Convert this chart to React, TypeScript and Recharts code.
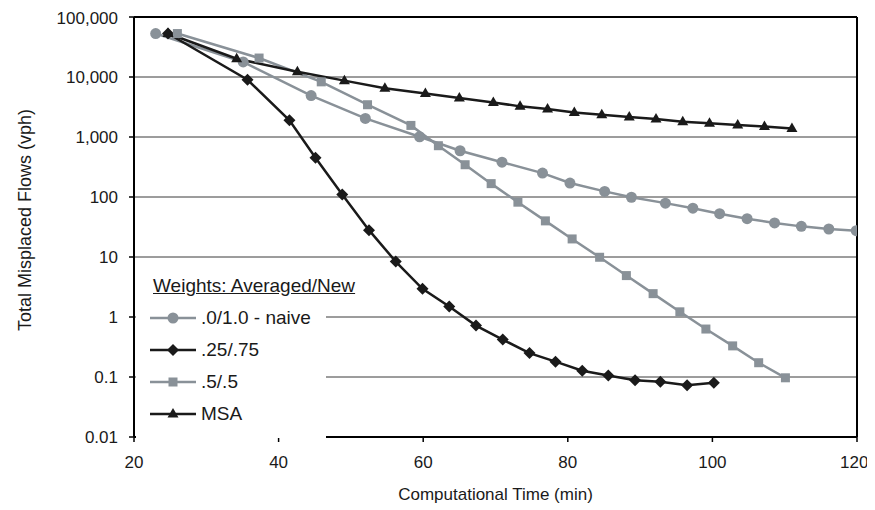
import React from 'react';
import { LineChart, Line, XAxis, YAxis, CartesianGrid, Legend, ReferenceLine } from 'recharts';

// each series has its own time stamps
const naiveTime = [23.0, 35.1, 44.5, 52.0, 59.5, 65.1, 70.9, 76.5, 80.3, 85.1, 88.8, 93.5, 97.3, 101.0, 104.8, 108.6, 112.3, 116.1, 119.9];
const naiveFlow = [53000, 17800, 4900, 2040, 1010, 590, 380, 250, 171, 124, 99, 79, 65, 52.7, 43.5, 36.9, 32.4, 29.3, 27.4];

const quarterTime = [24.7, 35.7, 41.5, 45.1, 48.8, 52.5, 56.2, 59.9, 63.6, 67.3, 71.0, 74.7, 78.3, 82.0, 85.6, 89.3, 92.8, 96.5, 100.2];
const quarterFlow = [53000, 9000, 1900, 450, 110, 28, 8.4, 2.95, 1.5, 0.72, 0.42, 0.25, 0.18, 0.127, 0.106, 0.088, 0.083, 0.073, 0.08];

const halfTime = [26.0, 37.3, 45.9, 52.3, 58.3, 62.1, 65.8, 69.4, 73.1, 76.9, 80.6, 84.4, 88.1, 91.8, 95.5, 99.1, 102.8, 106.4, 110.1];
const halfFlow = [53000, 20700, 8300, 3450, 1560, 716, 345, 167, 82, 40, 20, 9.9, 4.9, 2.45, 1.22, 0.63, 0.33, 0.173, 0.097];

const msaTime = [24.7, 34.2, 42.6, 49.1, 54.7, 60.3, 65.0, 69.7, 73.4, 77.2, 80.9, 84.7, 88.5, 92.2, 95.9, 99.6, 103.5, 107.2, 111.0];
const msaFlow = [53000, 20200, 12200, 8700, 6500, 5300, 4470, 3770, 3240, 2930, 2570, 2350, 2150, 2000, 1800, 1690, 1585, 1490, 1390];

const xTicks = [20, 40, 60, 80, 100, 120];
const yTicks = [0.01, 0.1, 1, 10, 100, 1000, 10000, 100000];

const GRAY = '#899198';
const BLACK = '#1a1a1a';
const FONT = '"Liberation Sans", Arial, sans-serif';

const toPoints = (t: number[], v: number[]) => t.map((x, i) => ({ t: x, v: v[i] }));

const series = [
  { name: '.0/1.0 - naive', shape: 'circle', color: GRAY, data: toPoints(naiveTime, naiveFlow) },
  { name: '.25/.75', shape: 'diamond', color: BLACK, data: toPoints(quarterTime, quarterFlow) },
  { name: '.5/.5', shape: 'square', color: GRAY, data: toPoints(halfTime, halfFlow) },
  { name: 'MSA', shape: 'triangle', color: BLACK, data: toPoints(msaTime, msaFlow) },
];

function Marker({ shape, color, cx, cy }: { shape: string; color: string; cx: number; cy: number }) {
  if (shape === 'circle') return <circle cx={cx} cy={cy} r={5.5} fill={color} />;
  if (shape === 'diamond')
    return <polygon points={`${cx},${cy - 6} ${cx + 6},${cy} ${cx},${cy + 6} ${cx - 6},${cy}`} fill={color} />;
  if (shape === 'square') return <rect x={cx - 4.5} y={cy - 4.5} width={9} height={9} fill={color} />;
  return <polygon points={`${cx},${cy - 6} ${cx + 5.5},${cy + 3.5} ${cx - 5.5},${cy + 3.5}`} fill={color} />;
}

const renderLegend = () => (
  <div
    style={{
      fontFamily: FONT,
      fontSize: 19,
      color: BLACK,
      background: '#fff',
      width: 190,
      height: 168,
      whiteSpace: 'nowrap',
      textAlign: 'left',
    }}
  >
    <div style={{ height: 32, lineHeight: '32px', paddingLeft: 17, textDecoration: 'underline' }}>
      Weights: Averaged/New
    </div>
    {series.map((s) => (
      <div key={s.name} style={{ height: 32, display: 'flex', alignItems: 'center', paddingLeft: 14 }}>
        <svg width={46} height={16} style={{ flex: 'none' }}>
          <line x1={0} x2={46} y1={8} y2={8} stroke={s.color} strokeWidth={2.5} />
          <Marker shape={s.shape} color={s.color} cx={23} cy={8} />
        </svg>
        <span style={{ marginLeft: 5 }}>{s.name}</span>
      </div>
    ))}
  </div>
);

const yTitle = (props: any) => {
  const { x, y, height } = props.viewBox;
  const cx = x + 17;
  const cy = y + height / 2 - 7;
  return (
    <text x={cx} y={cy} transform={`rotate(-90, ${cx}, ${cy})`} textAnchor="middle" dominantBaseline="central"
      fill={BLACK} fontSize={18} fontFamily={FONT}>
      Total Misplaced Flows (vph)
    </text>
  );
};

const xTitle = (props: any) => {
  const { x, y, width } = props.viewBox;
  return (
    <text x={x + width / 2} y={y + 57} textAnchor="middle" dominantBaseline="central"
      fill={BLACK} fontSize={17} fontFamily={FONT}>
      Computational Time (min)
    </text>
  );
};

export default function App() {
  return (
    <LineChart width={859} height={500} margin={{ top: 9, right: 10, left: 0, bottom: 0 }}>
      <CartesianGrid vertical={false} stroke="#3a3a3a" strokeWidth={1} />
      <XAxis
        type="number"
        dataKey="t"
        domain={[20, 120]}
        ticks={xTicks}
        allowDataOverflow
        height={71}
        tickSize={5}
        tickMargin={14}
        tick={{ fill: BLACK, fontSize: 17, fontFamily: FONT }}
        axisLine={{ stroke: '#000', strokeWidth: 2 }}
        tickLine={{ stroke: '#000', strokeWidth: 1.5 }}
        label={{ content: xTitle }}
      />
      <YAxis
        type="number"
        scale="log"
        domain={[0.01, 100000]}
        ticks={yTicks}
        allowDataOverflow
        width={126}
        tickSize={5}
        tickMargin={11}
        tickFormatter={(v: number) => v.toLocaleString('en-US')}
        tick={{ fill: BLACK, fontSize: 17, fontFamily: FONT }}
        axisLine={{ stroke: '#000', strokeWidth: 2 }}
        tickLine={{ stroke: '#000', strokeWidth: 1.5 }}
        label={{ content: yTitle }}
      />
      <ReferenceLine y={100000} stroke="#000" strokeWidth={2} />
      <ReferenceLine x={120} stroke="#000" strokeWidth={2} />
      {series.map((s) => (
        <Line
          key={s.name}
          data={s.data}
          dataKey="v"
          name={s.name}
          stroke={s.color}
          strokeWidth={2.5}
          isAnimationActive={false}
          dot={(p: any) => <Marker key={`${s.name}-${p.index}`} shape={s.shape} color={s.color} cx={p.cx} cy={p.cy} />}
          activeDot={false}
        />
      ))}
      <Legend
        layout="vertical"
        align="center"
        verticalAlign="middle"
        width={190}
        height={168}
        content={renderLegend}
        wrapperStyle={{ left: 128, top: 262, width: 190, height: 168 }}
      />
    </LineChart>
  );
}
